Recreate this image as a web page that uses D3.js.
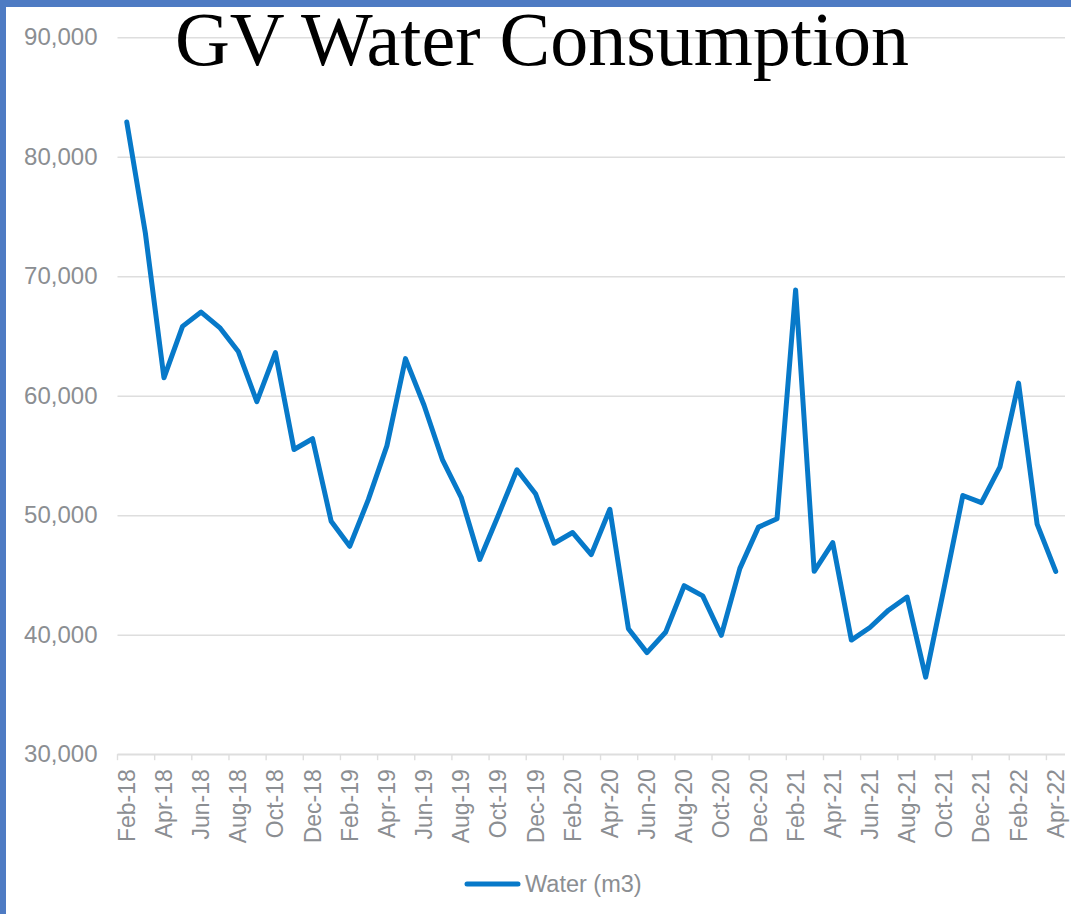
<!DOCTYPE html>
<html>
<head>
<meta charset="utf-8">
<script src="https://cdn.jsdelivr.net/npm/d3@7"></script>
<style>
  body { margin: 0; background: #fff; }
  svg { display: block; }
</style>
</head>
<body>
<div id="chart"></div>
<script>
// monthly water use, Feb-18 .. Apr-22
var months = ["Feb-18","Mar-18","Apr-18","May-18","Jun-18","Jul-18","Aug-18","Sep-18","Oct-18","Nov-18","Dec-18",
  "Jan-19","Feb-19","Mar-19","Apr-19","May-19","Jun-19","Jul-19","Aug-19","Sep-19","Oct-19","Nov-19","Dec-19",
  "Jan-20","Feb-20","Mar-20","Apr-20","May-20","Jun-20","Jul-20","Aug-20","Sep-20","Oct-20","Nov-20","Dec-20",
  "Jan-21","Feb-21","Mar-21","Apr-21","May-21","Jun-21","Jul-21","Aug-21","Sep-21","Oct-21","Nov-21","Dec-21",
  "Jan-22","Feb-22","Mar-22","Apr-22"];

var water = [82900, 73600, 61500, 65800, 67000, 65700, 63700, 59500, 63600, 55500, 56400,
  49500, 47400, 51300, 55800, 63100, 59200, 54600, 51500, 46300, 50000, 53800, 51800,
  47650, 48550, 46700, 50500, 40500, 38500, 40200, 44100, 43250, 39950, 45550, 49000,
  49700, 68850, 45300, 47700, 39550, 40600, 42050, 43150, 36450, 44000, 51650, 51050,
  54050, 61050, 49250, 45300];

var yTicks = [30000, 40000, 50000, 60000, 70000, 80000, 90000];
var seriesName = "Water (m3)";
var title = "GV Water Consumption";

var width = 1071, height = 914;
// note: "top" is taken by window.top, so use plot* names
var plotLeft = 117.5, plotRight = 1065, plotTop = 37.2, plotBottom = 754.2;
var grey = "#8b8e92";

var svg = d3.select("#chart").append("svg")
  .attr("width", width)
  .attr("height", height);

// blue frame edges
svg.append("rect").attr("x", 0).attr("y", 0).attr("width", width).attr("height", 7).attr("fill", "#4e7bc3");
svg.append("rect").attr("x", 0).attr("y", 0).attr("width", 6).attr("height", height).attr("fill", "#4e7bc3");

var x = d3.scaleBand().domain(months).range([plotLeft, plotRight]);
var y = d3.scaleLinear().domain([30000, 90000]).range([plotBottom, plotTop]);

// gridlines + y labels
var yAxis = svg.append("g")
  .attr("transform", "translate(" + plotLeft + ",0)")
  .call(d3.axisLeft(y).tickValues(yTicks).tickSize(-(plotRight - plotLeft)).tickPadding(20)
    .tickFormat(d3.format(",")));
yAxis.select(".domain").remove();
yAxis.selectAll(".tick line").attr("stroke", "#dedede").attr("stroke-width", 1.4);
yAxis.selectAll(".tick text")
  .attr("fill", grey)
  .attr("font-family", "'Liberation Sans', Arial, sans-serif")
  .attr("font-size", "24px");

// x axis: tick every 2 months on band edges, label at band centre
var xAxis = svg.append("g").attr("transform", "translate(0," + plotBottom + ")");
xAxis.append("line")
  .attr("x1", plotLeft).attr("x2", plotRight)
  .attr("stroke", "#dedede").attr("stroke-width", 1.4);

var shown = months.filter(function(d, i) { return i % 2 == 0; });

xAxis.selectAll(".tk").data(shown).enter().append("line")
  .attr("class", "tk")
  .attr("x1", function(d) { return x(d); })
  .attr("x2", function(d) { return x(d); })
  .attr("y1", 0).attr("y2", 6)
  .attr("stroke", "#dedede").attr("stroke-width", 1.4);

xAxis.selectAll(".lbl").data(shown).enter().append("text")
  .attr("class", "lbl")
  .attr("transform", function(d) {
    return "translate(" + (x(d) + x.bandwidth() / 2) + ",15) rotate(-90)";
  })
  .attr("dy", "0.35em")
  .attr("text-anchor", "end")
  .attr("fill", grey)
  .attr("font-family", "'Liberation Sans', Arial, sans-serif")
  .attr("font-size", "23px")
  .text(function(d) { return d; });

// the series
var line = d3.line()
  .x(function(d, i) { return x(months[i]) + x.bandwidth() / 2; })
  .y(function(d) { return y(d); });

svg.append("path")
  .datum(water)
  .attr("fill", "none")
  .attr("stroke", "#0779c9")
  .attr("stroke-width", 5)
  .attr("stroke-linejoin", "round")
  .attr("stroke-linecap", "round")
  .attr("d", line);

// title sits over the top gridline
svg.append("text")
  .attr("x", 542)
  .attr("y", 65)
  .attr("text-anchor", "middle")
  .attr("fill", "#000")
  .attr("font-family", "'Liberation Serif', 'Times New Roman', serif")
  .attr("font-size", "76px")
  .text(title);

// legend
var legend = svg.append("g").attr("transform", "translate(465,884)");
legend.append("line")
  .attr("x1", 2).attr("x2", 53)
  .attr("stroke", "#0779c9").attr("stroke-width", 5).attr("stroke-linecap", "round");
legend.append("text")
  .attr("x", 60)
  .attr("dy", "0.35em")
  .attr("fill", grey)
  .attr("font-family", "'Liberation Sans', Arial, sans-serif")
  .attr("font-size", "23.5px")
  .text(seriesName);
</script>
</body>
</html>
